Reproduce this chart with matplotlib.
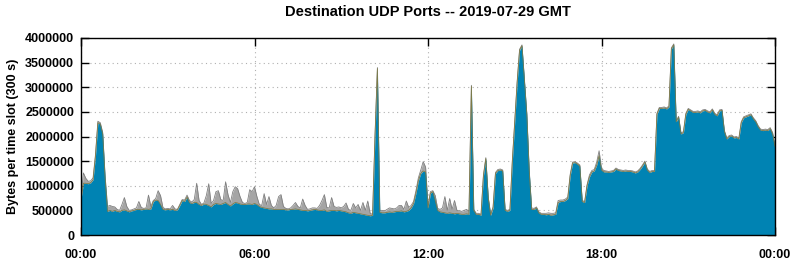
import numpy as np
import matplotlib
matplotlib.use("Agg")
import matplotlib.pyplot as plt

# 5-minute slots, values in millions of bytes per slot
slot_minutes = np.arange(0, 24 * 60 + 1, 5)

# main port (blue layer)
blue_mb = [
    .72, 1.05, 1.05, 1.04, 1.06, 1.12, 1.60, 2.28, 2.25, 2.05, 1.15, .48,
    .50, .48, .50, .48, .47, .50, .51, .49, .47, .49, .50, .52,
    .52, .51, .52, .53, .52, .53, .68, .71, .70, .62, .52, .51,
    .52, .51, .52, .50, .51, .60, .70, .68, .77, .66, .64, .66,
    .66, .62, .60, .63, .62, .60, .57, .62, .64, .63, .62, .64,
    .66, .62, .59, .63, .66, .65, .63, .62, .62, .63, .63, .62,
    .64, .62, .58, .56, .55, .54, .53, .53, .52, .52, .52, .52,
    .52, .51, .51, .52, .52, .53, .52, .51, .50, .50, .49, .50,
    .51, .52, .51, .50, .50, .51, .48, .49, .50, .50, .49, .50,
    .49, .48, .47, .45, .44, .46, .45, .44, .43, .42, .41, .40,
    .39, .40, 2.00, 3.38, .46, .45, .45, .46, .47, .46, .47, .48,
    .48, .49, .47, .48, .50, .55, .64, .85, 1.10, 1.25, 1.30, 1.28,
    .55, .85, .88, .70, .50, .47, .46, .45, .44, .45, .44, .43,
    .44, .43, .42, .42, .43, .42, 3.02, .50, .42, .42, .40, 1.20,
    1.55, .75, .40, .55, 1.25, 1.31, 1.32, 1.30, .50, .48, .50, 1.50,
    2.30, 3.10, 3.75, 3.84, 3.15, 2.45, 1.30, .52, .52, .55, .45, .42,
    .42, .41, .42, .40, .41, .42, .66, .68, .68, .70, .74, 1.20,
    1.46, 1.47, 1.44, 1.40, .68, .66, 1.00, 1.18, 1.28, 1.30, 1.42, 1.61,
    1.32, 1.28, 1.28, 1.27, 1.28, 1.29, 1.34, 1.31, 1.30, 1.29, 1.30, 1.29,
    1.29, 1.28, 1.26, 1.28, 1.33, 1.40, 1.48, 1.32, 1.27, 1.29, 1.29, 2.45,
    2.57, 2.57, 2.58, 2.56, 2.60, 3.78, 3.86, 2.30, 2.39, 2.05, 2.08, 2.45,
    2.55, 2.52, 2.49, 2.49, 2.50, 2.48, 2.52, 2.53, 2.50, 2.48, 2.54, 2.45,
    2.42, 2.52, 2.53, 2.10, 1.95, 2.00, 2.01, 1.97, 1.98, 1.95, 2.28, 2.38,
    2.40, 2.42, 2.44, 2.36, 2.30, 2.20, 2.13, 2.12, 2.13, 2.12, 2.16, 2.05,
    1.80,
]

# top of the stack incl. the other ports (gray layer)
total_mb = [
    .76, 1.26, 1.15, 1.09, 1.10, 1.16, 1.63, 2.31, 2.28, 2.08, 1.20, .58,
    .60, .58, .57, .52, .50, .62, .76, .58, .50, .51, .53, .55,
    .68, .56, .54, .55, .81, .58, .70, .74, .90, .80, .56, .53,
    .54, .53, .60, .53, .52, .62, .72, .71, .81, .70, .67, .72,
    1.05, .70, .62, .65, .80, 1.04, .64, .70, .88, .90, .72, .70,
    1.08, .82, .66, .88, .98, .94, .78, .66, .64, .66, .92, .88,
    .98, .78, .62, .60, .84, .62, .78, .60, .55, .60, .78, .82,
    .58, .54, .53, .55, .60, .66, .58, .55, .73, .60, .52, .53,
    .55, .55, .54, .60, .70, .82, .56, .55, .76, .58, .56, .57,
    .55, .58, .65, .52, .50, .64, .55, .62, .50, .66, .50, .69,
    .44, .42, 2.02, 3.40, .50, .50, .49, .52, .55, .54, .53, .55,
    .60, .60, .52, .69, .56, .60, .68, .90, 1.16, 1.32, 1.49, 1.38,
    .60, .88, .90, .80, .54, .52, .55, .78, .50, .74, .52, .70,
    .50, .49, .48, .50, .52, .48, 3.04, .52, .44, .44, .42, 1.22,
    1.57, .77, .42, .57, 1.27, 1.33, 1.34, 1.32, .52, .50, .52, 1.52,
    2.32, 3.12, 3.77, 3.86, 3.17, 2.47, 1.32, .55, .54, .57, .47, .44,
    .44, .44, .45, .44, .44, .45, .70, .71, .71, .73, .77, 1.23,
    1.48, 1.49, 1.46, 1.42, .70, .68, 1.02, 1.22, 1.31, 1.33, 1.48, 1.71,
    1.35, 1.31, 1.30, 1.29, 1.30, 1.31, 1.36, 1.33, 1.32, 1.31, 1.32, 1.31,
    1.31, 1.30, 1.28, 1.30, 1.35, 1.42, 1.50, 1.34, 1.29, 1.31, 1.31, 2.47,
    2.59, 2.59, 2.60, 2.58, 2.62, 3.80, 3.88, 2.32, 2.41, 2.07, 2.10, 2.47,
    2.57, 2.54, 2.51, 2.51, 2.52, 2.50, 2.54, 2.55, 2.52, 2.50, 2.56, 2.47,
    2.44, 2.54, 2.55, 2.12, 1.97, 2.02, 2.03, 1.99, 2.00, 1.97, 2.30, 2.40,
    2.42, 2.44, 2.46, 2.38, 2.32, 2.22, 2.15, 2.14, 2.15, 2.14, 2.18, 2.08,
    1.83,
]

x_ticks = [0, 6, 12, 18, 24]
x_labels = ["00:00", "06:00", "12:00", "18:00", "00:00"]
y_ticks = [0, 500000, 1000000, 1500000, 2000000, 2500000, 3000000, 3500000, 4000000]

plt.rcParams["font.family"] = ["Liberation Sans", "DejaVu Sans"]
plt.rcParams["font.weight"] = "bold"

hours = slot_minutes / 60.0
blue = np.array(blue_mb) * 1e6
total = np.array(total_mb) * 1e6

fig = plt.figure(figsize=(7.95, 2.6), dpi=100)
ax = fig.add_axes([81 / 795, 25 / 260, 694 / 795, 197 / 260])

ax.fill_between(hours, blue, total, color="#a5a5a5", lw=0, zorder=2)
ax.plot(hours, total, color="#808080", lw=0.6, zorder=3)
ax.fill_between(hours, 0, blue, color="#0083b3", lw=0, zorder=4)
ax.plot(hours, blue, color="#7d7a45", lw=0.55, zorder=5)

ax.set_xlim(0, 24)
ax.set_ylim(0, 4000000)
ax.set_xticks(x_ticks)
ax.set_xticklabels(x_labels)
ax.set_yticks(y_ticks)
ax.set_yticklabels([str(v) for v in y_ticks])

ax.grid(True, color="#b0b0b0", linestyle=(0, (1, 3)), lw=0.8, zorder=1)
ax.set_axisbelow(True)
ax.tick_params(direction="in", length=6, width=1, top=True, right=True,
               labelsize=9, pad=5)
ax.tick_params(axis="x", pad=10)
for s in ax.spines.values():
    s.set_linewidth(1)
    s.set_zorder(10)

ax.set_ylabel("Bytes per time slot (300 s)", fontsize=9, fontweight="bold", labelpad=4)
ax.set_title("Destination UDP Ports -- 2019-07-29 GMT", fontsize=10.5,
             fontweight="bold", pad=16)

fig.savefig("out.png", dpi=100)
